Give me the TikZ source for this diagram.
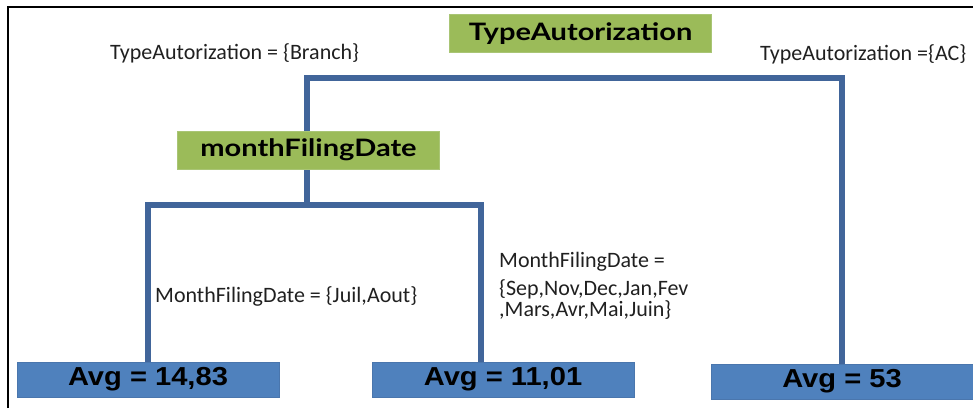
\documentclass[tikz,border=0pt]{standalone}
\usepackage{fontspec}
\setmainfont{Carlito}
\newfontfamily\headfont{Lato}
\newfontfamily\avgfont{Liberation Sans}
\definecolor{branchblue}{HTML}{41659A}
\definecolor{leafblue}{HTML}{4F81BD}
\definecolor{leafedge}{HTML}{4A76AD}
\definecolor{splitgreen}{HTML}{9BBB59}
\definecolor{splitedge}{HTML}{A9C575}
\definecolor{labelgray}{HTML}{202020}
\newcommand{\headtext}[1]{\scalebox{1.21}[1]{#1}}
\newcommand{\avgtext}[1]{\scalebox{1.12}[1]{#1}}
\tikzset{
  splitbox/.style={fill=splitgreen, draw=splitedge, line width=0.8pt,
    minimum width=262pt, minimum height=38pt, inner sep=0pt,
    font=\headfont\bfseries\fontsize{24}{24}\selectfont},
  leafbox/.style={fill=leafblue, draw=leafedge, line width=0.8pt,
    minimum width=262pt, minimum height=35pt, inner sep=0pt,
    font=\avgfont\bfseries\fontsize{26}{26}\selectfont},
  branch/.style={draw=branchblue, line width=6pt, line join=miter},
  cond/.style={text=labelgray, inner sep=0pt, font=\fontsize{22}{21}\selectfont},
}
\begin{document}
\begin{tikzpicture}[x=1pt,y=-1pt]
\useasboundingbox (0,0) rectangle (973,408);
% outer frame (left and top edges)
\draw[line width=2pt, black] (8,408) -- (8,7) -- (973,7);

% leaves
\node[leafbox] (avg1) at (148,379.5) {\avgtext{Avg = 14,83}};
\node[leafbox] (avg2) at (503,379.5) {\avgtext{Avg = 11,01}};
\node[leafbox] (avg3) at (842,381.5) {\avgtext{Avg = 53}};

% split points of the tree
\coordinate (rootsplit) at (307,78);
\coordinate (mfdsplit) at (307,205);

% branches
\draw[branch] (mfdsplit) -- (rootsplit) -| (avg3.north);
\draw[branch] (avg1.north) |- (mfdsplit) -| ([xshift=-22pt]avg2.north);

% split nodes
\node[splitbox] (root) at (580.5,33.5) {\headtext{TypeAutorization}};
\node[splitbox] (mfd) at (308.5,150) {\headtext{monthFilingDate}};

% branch conditions
\node[cond, anchor=base west] (cbranch) at (110,59) {TypeAutorization = \{Branch\}};
\node[cond, anchor=base west] (cac) at (760,60) {TypeAutorization =\{AC\}};
\node[cond, anchor=base west] (cjuil) at (155,302) {MonthFilingDate = \{Juil,Aout\}};
\node[cond, anchor=north west, align=left] (crest) at (499,252)
  {MonthFilingDate =\\[7pt]\{Sep,Nov,Dec,Jan,Fev\\,Mars,Avr,Mai,Juin\}};
\end{tikzpicture}
\end{document}
